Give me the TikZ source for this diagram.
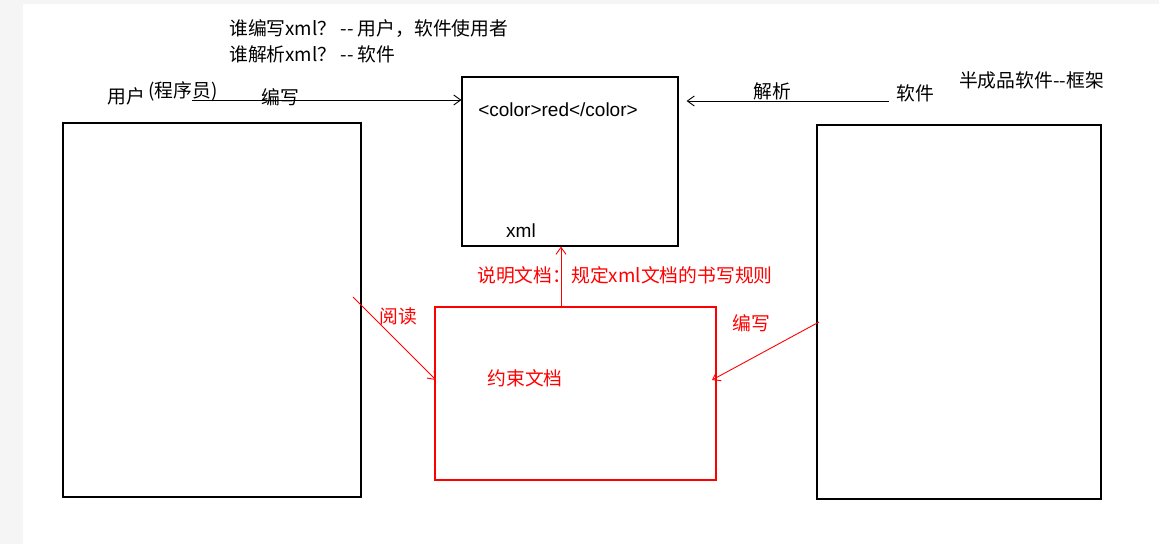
\documentclass[tikz,border=0pt]{standalone}
\usepackage{fontspec}
\setmainfont{Liberation Sans}
\newfontfamily\cjk{Noto Sans CJK SC}
\usetikzlibrary{arrows.meta}
\definecolor{pured}{RGB}{255,0,0}
\definecolor{margin}{RGB}{245,245,245}
\begin{document}
\begin{tikzpicture}[x=1pt,y=-1pt,
  bx/.style={draw=black, line width=1.1pt, inner sep=0pt},
  rbx/.style={draw=pured, line width=1.3pt, inner sep=0pt},
  lbl/.style={inner sep=0pt, font=\cjk\fontsize{18.8pt}{21pt}\selectfont},
  lat/.style={inner sep=0pt, font=\fontsize{19pt}{21pt}\selectfont},
  rlbl/.style={lbl, text=pured},
  arr/.style={-{Straight Barb[length=7pt,width=10pt,line width=0.9pt]}, line width=0.9pt},
  rarr/.style={arr, draw=pured}]
\fill[margin] (0,0) rectangle (1159,544);
\fill[white] (23,4) rectangle (1159,544);
\useasboundingbox (0,0) rectangle (1159,544);

% boxes
\node[bx, minimum width=298pt, minimum height=374pt] (user) at (212,310) {};
\node[bx, minimum width=216pt, minimum height=169pt] (xml) at (570,161.5) {};
\node[rbx, minimum width=281pt, minimum height=173pt] (cons) at (575.5,393.5) {};
\node[bx, minimum width=284pt, minimum height=374pt] (soft) at (959,312) {};

% texts
\node[lbl, anchor=west] (q1) at (229,29) {谁编写xml？ -- 用户，软件使用者};
\node[lbl, anchor=west] (q2) at (229,54) {谁解析xml？ -- 软件};
\node[lbl] (yh) at (126.5,96) {用户};
\node[lbl] (cxy) at (183,91) {(程序员)};
\node[lbl] (bx1) at (280,97) {编写};
\node[lat] (code) at (558,110) {<color>red</color>};
\node[lat] (xmlt) at (521,231) {xml};
\node[lbl] (jx) at (772,91) {解析};
\node[lbl] (rj) at (915.5,93) {软件};
\node[lbl] (kj) at (1031.5,80) {半成品软件--框架};
\node[rlbl] (sm) at (625,275) {说明文档：规定xml文档的书写规则};
\node[rlbl] (yd) at (398,316) {阅读};
\node[rlbl] (bx2) at (751.5,323) {编写};
\node[rlbl] (ys) at (525,378.5) {约束文档};

% connectors
\coordinate (ws) at (192,100);
\draw[arr] (ws) -- (ws -| xml.west);
\coordinate (ps) at (889,101);
\draw[arr, shorten >=8pt] (ps) -- (ps -| xml.east);
\coordinate (cs) at (561,307);
\draw[rarr] (cs) -- (cs |- xml.south);
\coordinate (rs) at (353,297);
\coordinate (re) at (436,380);
\draw[rarr] (rs) -- (re);
\coordinate (es) at (819,322);
\coordinate (ee) at (712,380);
\draw[rarr] (es) -- (ee);
\end{tikzpicture}
\end{document}
